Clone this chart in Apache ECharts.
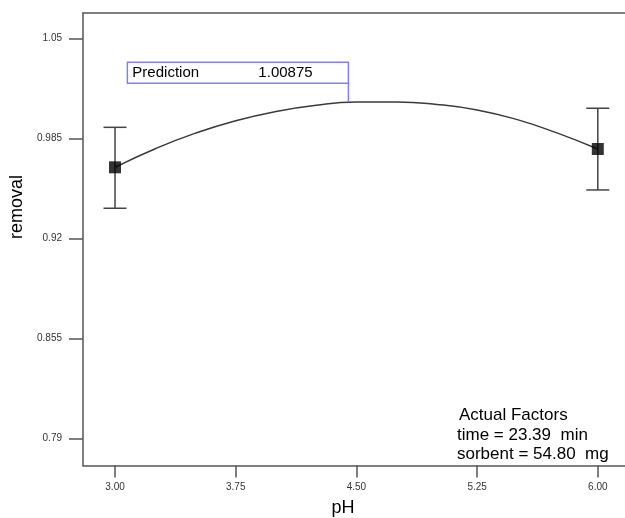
<!DOCTYPE html>
<html>
<head>
<meta charset="utf-8">
<script src="https://cdn.jsdelivr.net/npm/echarts@6/dist/echarts.min.js"></script>
<style>
  html, body { margin: 0; padding: 0; background: #fff; }
  #chart { width: 625px; height: 518px; }
</style>
</head>
<body>
<div id="chart"></div>
<script>
// curve
const curveX = [3.0, 3.25, 3.5, 3.75, 4.0, 4.25, 4.5, 4.75, 5.0, 5.25, 5.5, 5.75, 6.0]
const curveY = [0.9664, 0.9785, 0.9886, 0.9967, 1.0027, 1.0068, 1.0088, 1.0089, 1.0073, 1.0037, 0.9974, 0.9886, 0.9783]

// design points with error bars
const pointX = [3.0, 6.0]
const pointY = [0.9664, 0.9783]
const barLow = [0.9398, 0.9517]
const barHigh = [0.9924, 1.0048]

const xTicks = [3.0, 3.75, 4.5, 5.25, 6.0]
const yTicks = [0.79, 0.855, 0.92, 0.985, 1.05]

const predX = 4.45
const predY = 1.00875

const factors = ['Actual Factors', 'time = 23.39  min', 'sorbent = 54.80  mg']

const FONT = 'Liberation Sans, Arial, sans-serif'
const AXIS_COLOR = '#555'

const chart = echarts.init(document.getElementById('chart'))

const axisBase = {
  type: 'value',
  axisLine: { show: true, lineStyle: { color: AXIS_COLOR, width: 1.5 } },
  splitLine: { show: false },
}

chart.setOption({
  animation: false,
  grid: { left: 83, top: 13, right: 0, bottom: 52.5 },
  xAxis: [
    {
      ...axisBase,
      min: 2.801,
      max: 6.169,
      axisTick: { show: true, length: 12, customValues: xTicks, lineStyle: { color: AXIS_COLOR, width: 1.5 } },
      axisLabel: {
        customValues: xTicks,
        margin: 17,
        fontSize: 10,
        fontFamily: FONT,
        color: '#333',
        formatter: (v) => v.toFixed(2),
      },
    },
    {
      ...axisBase,
      position: 'top',
      min: 2.801,
      max: 6.169,
      axisTick: { show: false },
      axisLabel: { show: false },
    },
  ],
  yAxis: {
    ...axisBase,
    min: 0.7726,
    max: 1.0667,
    axisTick: { show: true, length: 14, customValues: yTicks, lineStyle: { color: AXIS_COLOR, width: 1.5 } },
    axisLabel: {
      customValues: yTicks,
      margin: 21,
      fontSize: 10,
      fontFamily: FONT,
      color: '#333',
      formatter: (v) => String(+v.toFixed(3)),
    },
  },
  series: [
    {
      type: 'line',
      data: curveX.map((x, i) => [x, curveY[i]]),
      smooth: 0.5,
      symbol: 'none',
      lineStyle: { color: '#3a3a3a', width: 1.5 },
      z: 2,
    },
    {
      type: 'custom',
      data: pointX.map((x, i) => [x, barLow[i], barHigh[i]]),
      encode: { x: 0, y: [1, 2] },
      renderItem: (params, api) => {
        const lo = api.coord([api.value(0), api.value(1)])
        const hi = api.coord([api.value(0), api.value(2)])
        const half = 11.5
        const style = { stroke: '#444', lineWidth: 1.5 }
        return {
          type: 'group',
          children: [
            { type: 'line', shape: { x1: lo[0], y1: lo[1], x2: hi[0], y2: hi[1] }, style },
            { type: 'line', shape: { x1: lo[0] - half, y1: lo[1], x2: lo[0] + half, y2: lo[1] }, style },
            { type: 'line', shape: { x1: hi[0] - half, y1: hi[1], x2: hi[0] + half, y2: hi[1] }, style },
          ],
        }
      },
      z: 3,
    },
    {
      type: 'scatter',
      data: pointX.map((x, i) => [x, pointY[i]]),
      symbol: 'rect',
      symbolSize: 12,
      itemStyle: { color: '#000' },
      z: 4,
    },
  ],
})

// prediction flag, anchored on the predicted point
const [px, py] = chart.convertToPixel({ xAxisIndex: 0, yAxisIndex: 0 }, [predX, predY])
const boxW = 221
const boxH = 21
const boxBottom = py - 19

chart.setOption({
  graphic: [
    {
      type: 'rect',
      shape: { x: px - boxW, y: boxBottom - boxH, width: boxW, height: boxH },
      style: { fill: '#fff', stroke: '#8080ff', lineWidth: 1.5 },
      z: 10,
    },
    {
      type: 'line',
      shape: { x1: px, y1: boxBottom, x2: px, y2: py },
      style: { stroke: '#8080ff', lineWidth: 1.5 },
      z: 10,
    },
    {
      type: 'text',
      x: px - boxW + 5,
      y: boxBottom - boxH / 2,
      style: { text: 'Prediction', font: '15px ' + FONT, fill: '#000', verticalAlign: 'middle' },
      z: 11,
    },
    {
      type: 'text',
      x: px - 90,
      y: boxBottom - boxH / 2,
      style: { text: predY.toFixed(5), font: '15px ' + FONT, fill: '#000', verticalAlign: 'middle' },
      z: 11,
    },
    {
      type: 'text',
      x: 17.5,
      y: 207,
      rotation: Math.PI / 2,
      style: { text: 'removal', font: '18px ' + FONT, fill: '#000', align: 'center', verticalAlign: 'middle' },
    },
    {
      type: 'text',
      x: 343,
      y: 508,
      style: { text: 'pH', font: '18px ' + FONT, fill: '#000', align: 'center', verticalAlign: 'middle' },
    },
    ...factors.map((t, i) => ({
      type: 'text',
      x: i === 0 ? 459 : 457,
      y: 407 + i * 19.5,
      style: { text: t, font: '17px ' + FONT, fill: '#000', verticalAlign: 'alphabetic' },
    })),
  ],
})
</script>
</body>
</html>
